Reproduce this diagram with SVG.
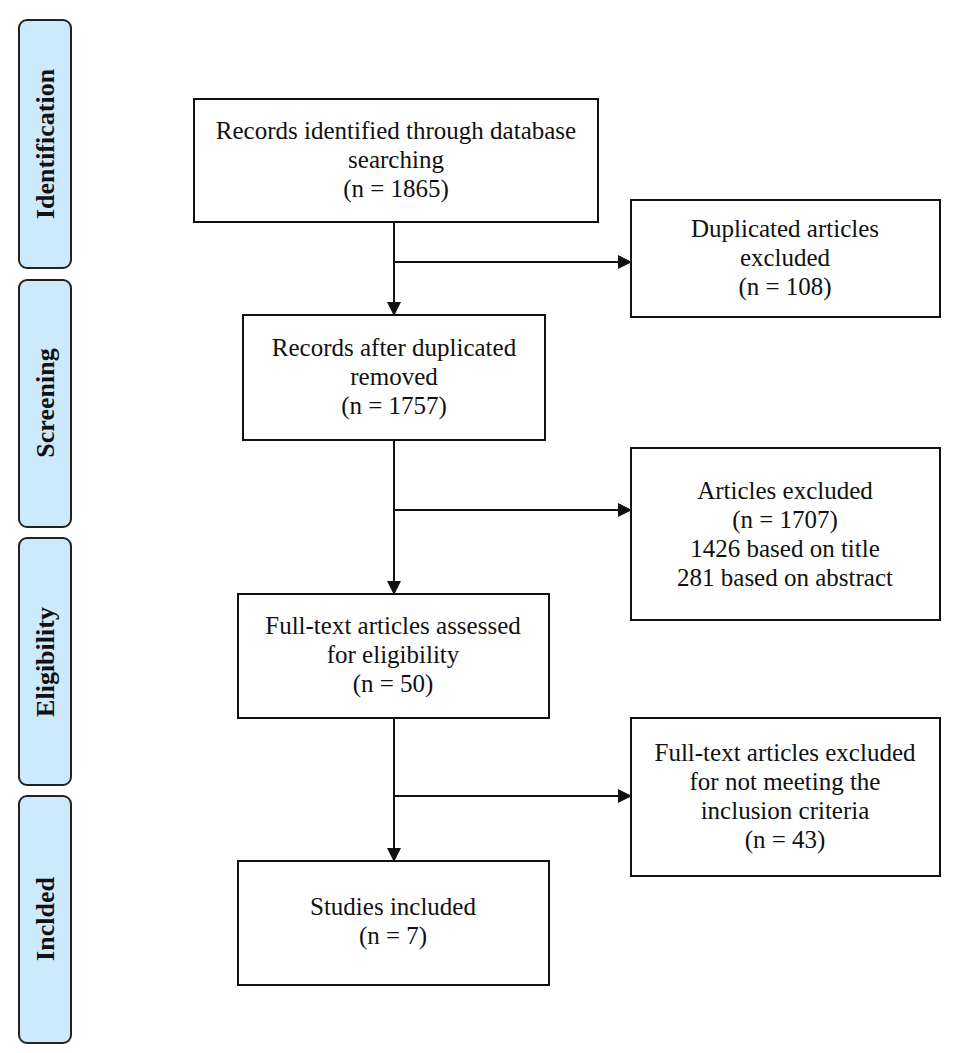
<svg xmlns="http://www.w3.org/2000/svg" width="957" height="1053" viewBox="0 0 957 1053">
<style>
.phase{fill:#cde9fc;stroke:#222;stroke-width:2}
.ph{font-family:"Liberation Serif","Times New Roman",serif;font-weight:bold;font-size:26px;fill:#111;text-anchor:middle}
.box{fill:#fff;stroke:#111;stroke-width:2}
.lbl{font-family:"Liberation Serif","Times New Roman",serif;font-size:25px;fill:#111;text-anchor:middle}
.c{stroke:#111;stroke-width:2;fill:none}
</style>
<defs>
<marker id="ah" markerWidth="14" markerHeight="14" refX="13" refY="7" orient="auto" markerUnits="userSpaceOnUse">
<path d="M0,0 L14,7 L0,14 Z" fill="#111"/>
</marker>
</defs>
<rect width="957" height="1053" fill="#fff"/>
<g id="phase-identification"><rect class="phase" x="19" y="20" width="52" height="248" rx="8"/><text class="ph" transform="translate(54,144) rotate(-90)">Identification</text></g>
<g id="phase-screening"><rect class="phase" x="19" y="280" width="52" height="247" rx="8"/><text class="ph" transform="translate(54,403) rotate(-90)">Screening</text></g>
<g id="phase-eligibility"><rect class="phase" x="19" y="538" width="52" height="247" rx="8"/><text class="ph" transform="translate(54,662) rotate(-90)">Eligibility</text></g>
<g id="phase-included"><rect class="phase" x="19" y="796" width="52" height="247" rx="8"/><text class="ph" transform="translate(54,919) rotate(-90)">Inclded</text></g>

<g id="connectors">
<line class="c" x1="394" y1="222" x2="394" y2="315" marker-end="url(#ah)"/>
<line class="c" x1="394" y1="262" x2="631" y2="262" marker-end="url(#ah)"/>
<line class="c" x1="394" y1="440" x2="394" y2="594" marker-end="url(#ah)"/>
<line class="c" x1="394" y1="510" x2="631" y2="510" marker-end="url(#ah)"/>
<line class="c" x1="394" y1="718" x2="394" y2="861" marker-end="url(#ah)"/>
<line class="c" x1="394" y1="796" x2="631" y2="796" marker-end="url(#ah)"/>
</g>

<g id="records-identified"><rect class="box" x="194" y="99" width="404" height="123"/>
<text class="lbl" x="396" y="139">Records identified through database</text>
<text class="lbl" x="396" y="168">searching</text>
<text class="lbl" x="396" y="197">(n = 1865)</text></g>

<g id="duplicated-excluded"><rect class="box" x="631" y="200" width="309" height="117"/>
<text class="lbl" x="785" y="237">Duplicated articles</text>
<text class="lbl" x="785" y="266">excluded</text>
<text class="lbl" x="785" y="295">(n = 108)</text></g>

<g id="records-after"><rect class="box" x="243" y="315" width="302" height="125"/>
<text class="lbl" x="394" y="356">Records after duplicated</text>
<text class="lbl" x="394" y="385">removed</text>
<text class="lbl" x="394" y="414">(n = 1757)</text></g>

<g id="articles-excluded"><rect class="box" x="631" y="448" width="309" height="172"/>
<text class="lbl" x="785" y="499">Articles excluded</text>
<text class="lbl" x="785" y="528">(n = 1707)</text>
<text class="lbl" x="785" y="557">1426 based on title</text>
<text class="lbl" x="785" y="586">281 based on abstract</text></g>

<g id="fulltext-assessed"><rect class="box" x="238" y="594" width="311" height="124"/>
<text class="lbl" x="393" y="634">Full-text articles assessed</text>
<text class="lbl" x="393" y="663">for eligibility</text>
<text class="lbl" x="393" y="692">(n = 50)</text></g>

<g id="fulltext-excluded"><rect class="box" x="631" y="718" width="309" height="158"/>
<text class="lbl" x="785" y="761">Full-text articles excluded</text>
<text class="lbl" x="785" y="790">for not meeting the</text>
<text class="lbl" x="785" y="819">inclusion criteria</text>
<text class="lbl" x="785" y="848">(n = 43)</text></g>

<g id="studies-included"><rect class="box" x="238" y="861" width="311" height="124"/>
<text class="lbl" x="393" y="915">Studies included</text>
<text class="lbl" x="393" y="944">(n = 7)</text></g>
</svg>
